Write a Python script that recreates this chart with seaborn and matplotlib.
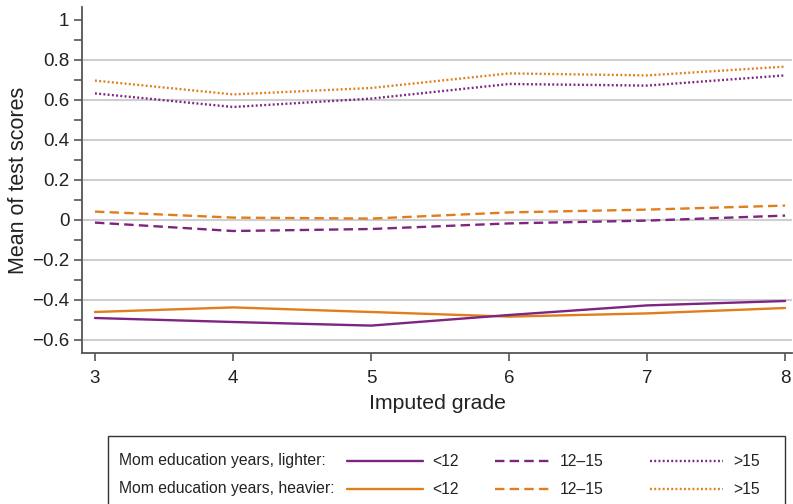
import numpy as np
import pandas as pd
import matplotlib
matplotlib.use("Agg")
import matplotlib.pyplot as plt
from matplotlib.lines import Line2D
from matplotlib.patches import Rectangle
import seaborn as sns

grades = [3, 4, 5, 6, 7, 8]

lighter_lt12 = [-0.490, -0.510, -0.528, -0.475, -0.427, -0.405]
lighter_12_15 = [-0.013, -0.055, -0.045, -0.017, -0.003, 0.022]
lighter_gt15 = [0.633, 0.565, 0.607, 0.680, 0.672, 0.723]

heavier_lt12 = [-0.460, -0.437, -0.460, -0.483, -0.467, -0.440]
heavier_12_15 = [0.042, 0.012, 0.007, 0.038, 0.052, 0.072]
heavier_gt15 = [0.697, 0.628, 0.660, 0.733, 0.723, 0.767]

edu_levels = ["<12", "12\u201315", ">15"]
weights = ["lighter", "heavier"]

PURPLE = "#7d2580"
ORANGE = "#e07d1c"
GRID = "#cfcfcf"
AXIS = "#555555"
TEXT = "#222222"

series = {
    ("lighter", "<12"): lighter_lt12,
    ("lighter", "12\u201315"): lighter_12_15,
    ("lighter", ">15"): lighter_gt15,
    ("heavier", "<12"): heavier_lt12,
    ("heavier", "12\u201315"): heavier_12_15,
    ("heavier", ">15"): heavier_gt15,
}
rows = []
for (w, e), vals in series.items():
    for g, v in zip(grades, vals):
        rows.append({"grade": g, "score": v, "weight": w, "education": e})
df = pd.DataFrame(rows)

sns.set_theme(style="white")
plt.rcParams["font.family"] = ["Liberation Sans", "DejaVu Sans"]

fig = plt.figure(figsize=(7.93, 5.04), dpi=100)
ax = fig.add_axes([82 / 793, 1 - 353 / 504, 710 / 793, 346 / 504])

palette = {"lighter": PURPLE, "heavier": ORANGE}
dashes = {"<12": "", "12\u201315": (4, 2.2), ">15": (0.8, 1.0)}

# draw heavier first so lighter series lie on top where they cross
for w in ["heavier", "lighter"]:
    sns.lineplot(data=df[df.weight == w], x="grade", y="score", hue="weight",
                 style="education", palette=palette, dashes=dashes,
                 linewidth=1.7, ax=ax, legend=False, sort=True)

ax.set_xlim(2.906, 8.05)
ax.set_ylim(-0.665, 1.065)
ax.set_xticks(grades)
ax.set_yticks([-0.6, -0.4, -0.2, 0, 0.2, 0.4, 0.6, 0.8, 1])
ax.set_yticklabels(["\u22120.6", "\u22120.4", "\u22120.2", "0", "0.2", "0.4",
                    "0.6", "0.8", "1"])
ax.set_yticks(np.arange(-0.6, 1.01, 0.1), minor=True)

for v in [-0.6, -0.4, -0.2, 0, 0.2, 0.4, 0.6, 0.8]:
    ax.axhline(v, color=GRID, lw=1.5, zorder=0)

for s in ["top", "right"]:
    ax.spines[s].set_visible(False)
for s in ["left", "bottom"]:
    ax.spines[s].set_color(AXIS)
    ax.spines[s].set_linewidth(1.3)

ax.tick_params(axis="y", which="major", direction="out", length=6, width=1.2,
               color=AXIS, labelsize=13.5, labelcolor=TEXT, pad=3, left=True)
ax.tick_params(axis="y", which="minor", direction="out", length=6, width=1.2,
               color=AXIS, left=True)
ax.tick_params(axis="x", direction="out", length=6, width=1.2, color=AXIS,
               labelsize=13.5, labelcolor=TEXT, pad=6, bottom=True)

ax.set_xlabel("Imputed grade", fontsize=15.3, color=TEXT, labelpad=5)
ax.set_ylabel("Mean of test scores", fontsize=15.5, color=TEXT, labelpad=2)

# legend panel below the plot
def fx(px):
    return px / 793

def fy(py):
    return 1 - py / 504

fig.patches.append(Rectangle((fx(108), fy(530)), fx(785) - fx(108),
                             fy(436) - fy(530), transform=fig.transFigure,
                             fill=False, edgecolor="#333333", lw=1.0))

row_y = [461, 489]
row_titles = ["Mom education years, lighter:", "Mom education years, heavier:"]
row_colors = [PURPLE, ORANGE]
sample_x = [(347, 423), (495, 552), (650, 723)]
label_x = [432, 560, 733]
sample_dash = [(None, None), (4, 2.2), (0.8, 1.0)]
for ry, title, col in zip(row_y, row_titles, row_colors):
    fig.text(fx(119), fy(ry), title, fontsize=11.3, color=TEXT,
             ha="left", va="center")
    for (x0, x1), lx, ls, lab in zip(sample_x, label_x, sample_dash, edu_levels):
        ln = Line2D([fx(x0), fx(x1)], [fy(ry), fy(ry)], transform=fig.transFigure,
                    color=col, lw=1.7)
        if ls[0] is not None:
            ln.set_dashes(ls)
        fig.lines.append(ln)
        fig.text(fx(lx), fy(ry), lab, fontsize=11.3, color=TEXT,
                 ha="left", va="center")

fig.savefig("out.png", dpi=100)
